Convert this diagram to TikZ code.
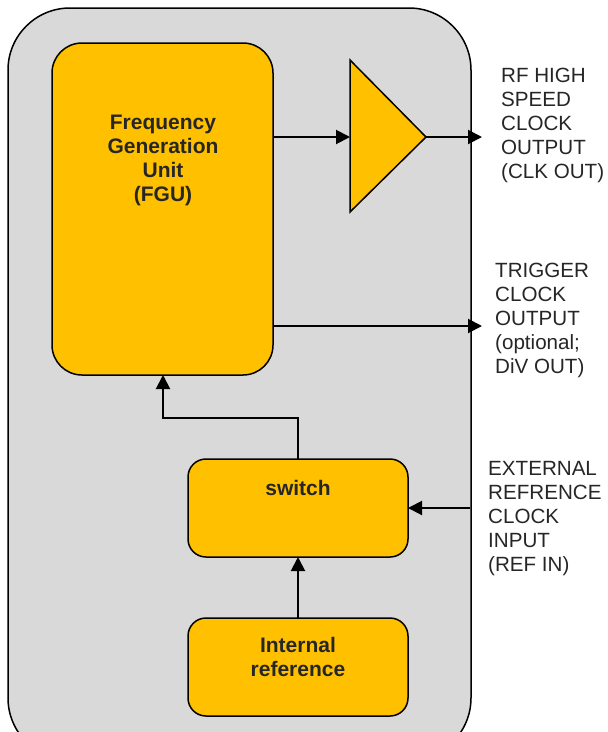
\documentclass[tikz,border=0pt]{standalone}
\usepackage{fontspec}
\setmainfont{Liberation Sans}
\usetikzlibrary{arrows.meta}
\definecolor{boxgray}{HTML}{D9D9D9}
\definecolor{orangefill}{HTML}{FFC000}
\definecolor{txt}{HTML}{262626}
\begin{document}
\begin{tikzpicture}[x=1pt,y=-1pt,
  blk/.style={draw=black, line width=1.5pt, fill=orangefill},
  lbl/.style={font=\fontsize{20.6}{24}\selectfont, text=txt, align=left, anchor=north west, inner sep=0pt},
  btxt/.style={font=\fontsize{21}{24}\selectfont\bfseries, text=txt, align=center, inner sep=0pt},
  conn/.style={line width=2pt, -{Triangle[length=14pt,width=14pt]}},
  wire/.style={line width=2pt}]
\useasboundingbox (0,0) rectangle (608,732);
% outer box
\draw[fill=boxgray, line width=1.5pt, rounded corners=62pt] (8,8) rectangle (471,760);
% FGU
\draw[blk, rounded corners=30pt] (52,43) rectangle (273,375);
\coordinate (fguR1) at (273,137);
\coordinate (fguR2) at (273,326);
\coordinate (fguB) at (163,375);
\node[btxt] (fgu) at (163,160) {Frequency\\Generation\\Unit\\(FGU)};
% amplifier
\draw[blk] (350,60) -- (426,137) -- (350,212) -- cycle;
\coordinate (ampIn) at (350,137);
\coordinate (ampOut) at (426,137);
% switch
\draw[blk, rounded corners=18pt] (188,459) rectangle (408,557);
\node[btxt] (sw) at (298,488) {switch};
\coordinate (swT) at (298,459);
\coordinate (swB) at (298,557);
\coordinate (swR) at (408,508);
% internal reference
\draw[blk, rounded corners=18pt] (188,618) rectangle (408,716);
\node[btxt] (iref) at (298,657) {Internal\\reference};
\coordinate (irT) at (298,618);
% outer free ends
\coordinate (clkout) at (482,137);
\coordinate (divout) at (482,326);
\coordinate (refin) at (470,508);
% connectors
\draw[conn] (fguR1) -- (ampIn);
\draw[conn] (ampOut) -- (clkout);
\draw[conn] (fguR2) -- (divout);
\draw[conn] (refin) -- (swR);
\draw[conn] (irT) -- (swB);
\draw[conn] (swT) |- (230,418) -| (fguB);
% labels
\node[lbl] (l1) at (501,68) {RF HIGH\\SPEED\\CLOCK\\OUTPUT\\(CLK OUT)};
\node[lbl] (l2) at (495,263) {TRIGGER\\CLOCK\\OUTPUT\\(optional;\\DiV OUT)};
\node[lbl] (l3) at (488,461) {EXTERNAL\\REFRENCE\\CLOCK\\INPUT\\(REF IN)};
\end{tikzpicture}
\end{document}
